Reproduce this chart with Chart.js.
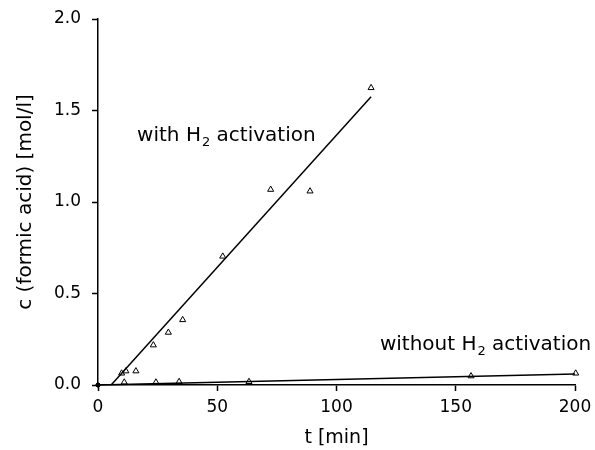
<!DOCTYPE html>
<html>
<head>
<meta charset="utf-8">
<script src="https://cdn.jsdelivr.net/npm/chart.js@4/dist/chart.umd.min.js"></script>
<style>
  html, body { margin: 0; padding: 0; background: #fff; }
  #wrap { width: 595px; height: 450px; }
</style>
</head>
<body>
<div id="wrap"><canvas id="chart" width="595" height="450"></canvas></div>
<script>
const timeWithH2 = [0, 9.9, 11.7, 15.9, 23.2, 29.5, 35.5, 52.3, 72.4, 88.9, 114.5];
const concWithH2 = [0, 0.064, 0.076, 0.076, 0.218, 0.287, 0.356, 0.703, 1.068, 1.059, 1.624];
const timeWithoutH2 = [0, 11.0, 24.3, 34.0, 63.3, 156.4, 200.3];
const concWithoutH2 = [0, 0.015, 0.015, 0.018, 0.018, 0.049, 0.064];

// straight fit lines (end points)
const fitWithH2 = [[5.5, 0], [114.5, 1.575]];
const fitWithoutH2 = [[0, 0], [200, 0.06]];

const xTicks = [0, 50, 100, 150, 200];
const yTicks = [0, 0.5, 1.0, 1.5, 2.0];

// annotation text anchors (data coords, left / baseline)
const labels = [
    { text: 'with H', sub: '2', rest: ' activation', x: 16.4, y: 1.335 },
    { text: 'without H', sub: '2', rest: ' activation', x: 118.2, y: 0.19 }
];

const FONT = 'DejaVu Sans';

function toPoints(xs, ys) {
    return xs.map((x, i) => ({ x: x, y: ys[i] }));
}

const textLabels = {
    id: 'textLabels',
    afterDatasetsDraw(chart) {
        const ctx = chart.ctx;
        const xs = chart.scales.x, ys = chart.scales.y;
        ctx.save();
        ctx.fillStyle = '#000';
        ctx.textBaseline = 'alphabetic';
        ctx.textAlign = 'left';
        labels.forEach(l => {
            let px = xs.getPixelForValue(l.x);
            const py = ys.getPixelForValue(l.y);
            ctx.font = '20px "' + FONT + '"';
            ctx.fillText(l.text, px, py);
            px += ctx.measureText(l.text).width + 1;
            ctx.font = '13px "' + FONT + '"';
            ctx.fillText(l.sub, px, py + 5);
            px += ctx.measureText(l.sub).width;
            ctx.font = '20px "' + FONT + '"';
            ctx.fillText(l.rest, px, py);
        });
        ctx.restore();
    }
};

// origin is plotted as a small dot, the rest as open triangles
const atOrigin = c => c.raw && c.raw.x === 0 && c.raw.y === 0;

const tri = {
    type: 'scatter',
    showLine: false,
    clip: false,
    pointStyle: c => atOrigin(c) ? 'circle' : 'triangle',
    pointRadius: c => atOrigin(c) ? 2 : 3.5,
    pointBorderWidth: 1,
    pointBorderColor: '#000',
    pointBackgroundColor: c => atOrigin(c) ? '#000' : '#fff'
};

const fitLine = {
    type: 'line',
    showLine: true,
    clip: false,
    borderColor: '#000',
    borderWidth: 1.5,
    pointRadius: 0,
    fill: false
};

new Chart(document.getElementById('chart'), {
    type: 'scatter',
    data: {
        datasets: [
            Object.assign({ label: 'fit with H2', data: fitWithH2.map(p => ({ x: p[0], y: p[1] })) }, fitLine),
            Object.assign({ label: 'fit without H2', data: fitWithoutH2.map(p => ({ x: p[0], y: p[1] })) }, fitLine),
            Object.assign({ label: 'with H2', data: toPoints(timeWithH2, concWithH2) }, tri),
            Object.assign({ label: 'without H2', data: toPoints(timeWithoutH2, concWithoutH2) }, tri)
        ]
    },
    options: {
        responsive: false,
        animation: false,
        layout: { padding: { top: 19, right: 20, left: 0, bottom: 0 } },
        plugins: {
            legend: { display: false },
            tooltip: { enabled: false }
        },
        scales: {
            x: {
                type: 'linear',
                min: 0,
                max: 200,
                afterFit(scale) {
                    scale.height = 65;
                    scale.paddingLeft = 0;
                    scale.paddingRight = 0;
                },
                afterBuildTicks(scale) { scale.ticks = xTicks.map(v => ({ value: v })); },
                border: { display: true, color: '#000', width: 1.5 },
                grid: { drawOnChartArea: false, drawTicks: true, tickLength: 6, tickColor: '#000', tickWidth: 1.5 },
                ticks: {
                    color: '#000',
                    padding: 6,
                    font: { family: FONT, size: 17 },
                    callback: v => String(v)
                },
                title: {
                    display: true,
                    text: 't [min]',
                    color: '#000',
                    font: { family: FONT, size: 19 },
                    padding: { top: 0, bottom: 1 }
                }
            },
            y: {
                type: 'linear',
                min: 0,
                max: 2,
                afterFit(scale) {
                    scale.width = 98;
                    scale.paddingTop = 0;
                    scale.paddingBottom = 0;
                },
                afterBuildTicks(scale) { scale.ticks = yTicks.map(v => ({ value: v })); },
                border: { display: true, color: '#000', width: 1.5 },
                grid: { drawOnChartArea: false, drawTicks: true, tickLength: 6, tickColor: '#000', tickWidth: 1.5 },
                ticks: {
                    color: '#000',
                    padding: 11,
                    font: { family: FONT, size: 17 },
                    callback: v => v.toFixed(1)
                },
                title: {
                    display: true,
                    text: 'c (formic acid) [mol/l]',
                    color: '#000',
                    font: { family: FONT, size: 20 },
                    padding: { top: 14, bottom: 0 }
                }
            }
        }
    },
    plugins: [textLabels]
});
</script>
</body>
</html>
